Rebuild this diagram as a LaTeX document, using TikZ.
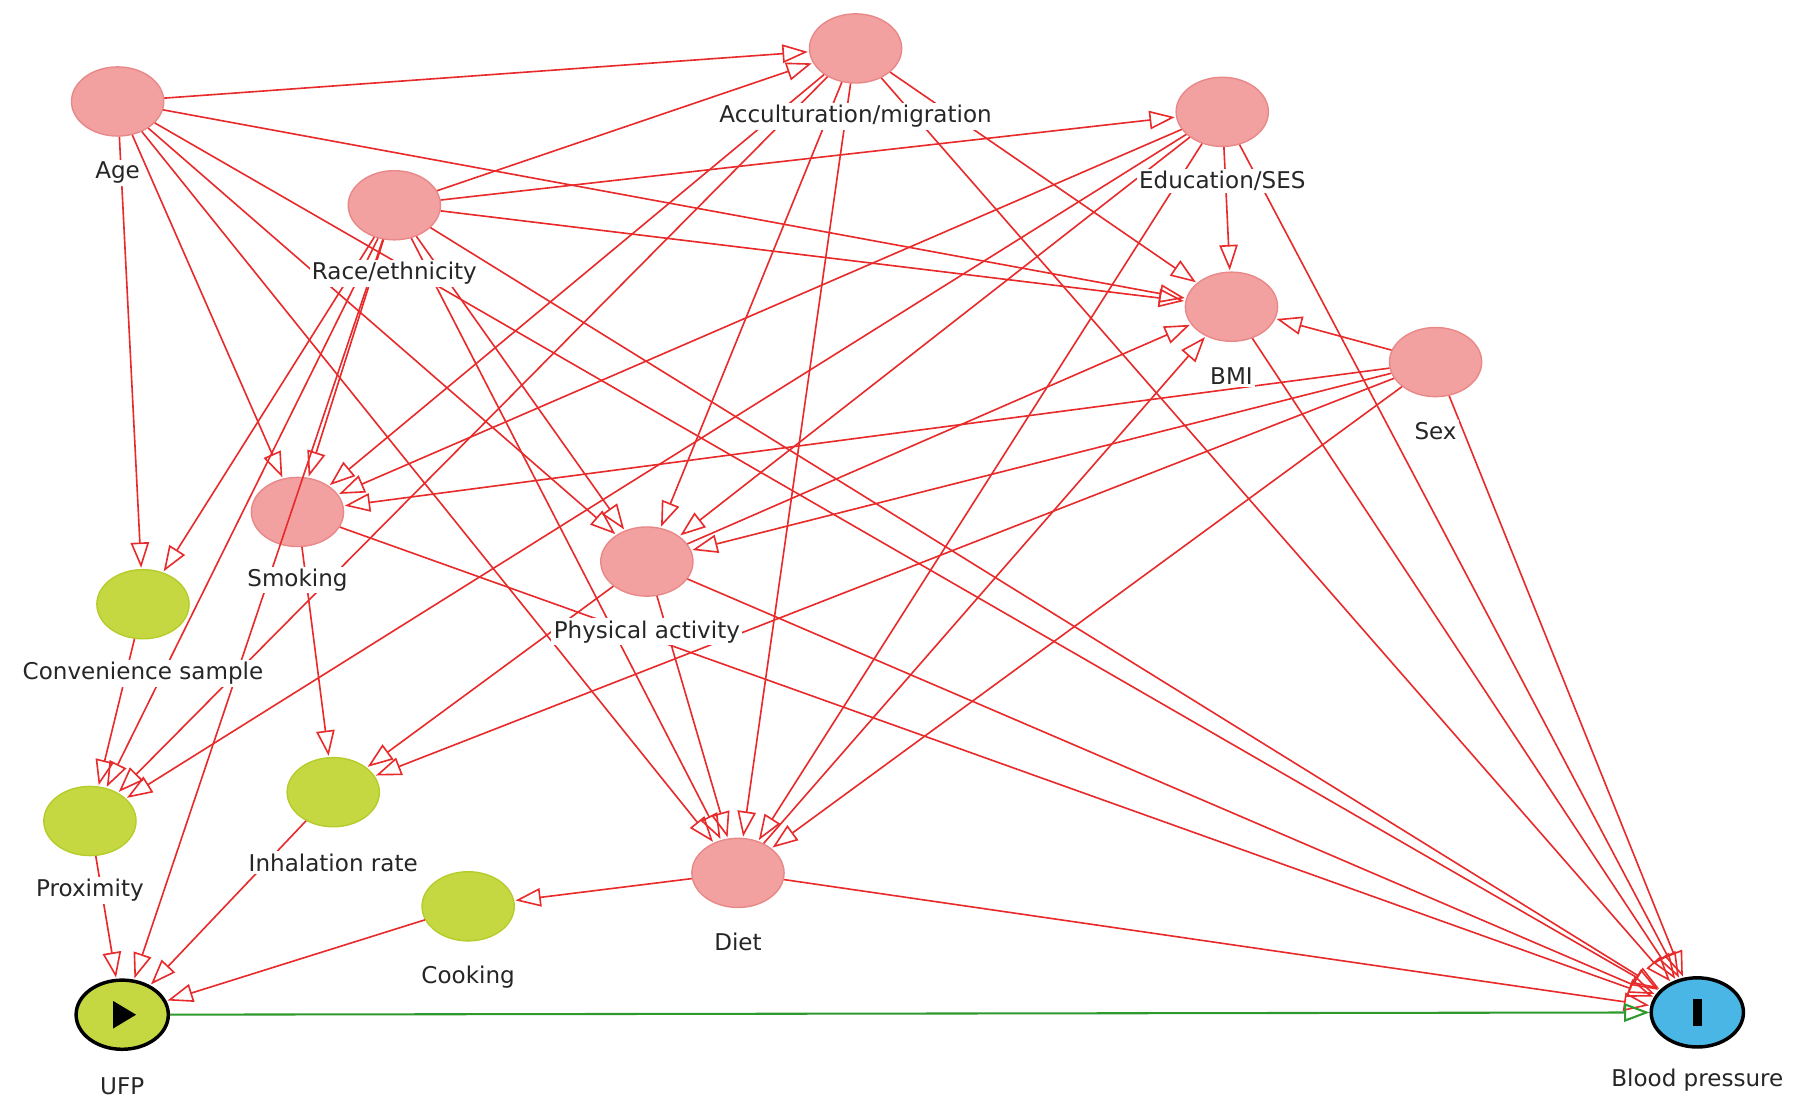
\documentclass[tikz,border=0pt]{standalone}
\usepackage{fontspec}
\setmainfont{DejaVu Sans}
\usetikzlibrary{arrows.meta,shapes.geometric}
\definecolor{ered}{HTML}{E82A2A}
\definecolor{pinkf}{HTML}{F2A0A0}
\definecolor{pinkd}{HTML}{E88888}
\definecolor{greenf}{HTML}{C5D841}
\definecolor{greend}{HTML}{B5CC2A}
\definecolor{bluef}{HTML}{4AB6E6}
\definecolor{egreen}{HTML}{2E9A2E}
\begin{document}
\begin{tikzpicture}[x=0.5pt,y=-0.5pt,
  v/.style={ellipse,minimum width=40pt,minimum height=30pt,inner sep=0pt},
  pk/.style={v,fill=pinkf,draw=pinkd,line width=0.6pt},
  gr/.style={v,fill=greenf,draw=greend,line width=0.6pt},
  lab/.style={font=\fontsize{10}{12}\selectfont,text=black!85,fill=white,inner sep=1pt},
  e/.style={draw=ered,line width=0.7pt,-{Triangle[open,length=11pt,width=8pt]},shorten >=0.5pt},
  ex/.style={draw=egreen,line width=0.9pt,-{Triangle[open,length=11pt,width=8pt]}}]
\useasboundingbox (0,0) rectangle (1568,960);
% nodes
\node[pk] (age) at (102,88) {};
\node[pk] (acc) at (742,42) {};
\node[pk] (edu) at (1060,97) {};
\node[pk] (race) at (342,178) {};
\node[pk] (bmi) at (1068,266) {};
\node[pk] (sex) at (1245,314) {};
\node[pk] (smk) at (258,444) {};
\node[pk] (pa) at (561,487) {};
\node[gr] (conv) at (124,524) {};
\node[gr] (prox) at (78,712) {};
\node[gr] (inh) at (289,687) {};
\node[pk] (diet) at (640,757) {};
\node[gr] (cook) at (406,786) {};
\node[v,fill=greenf,draw=black,line width=1.5pt] (ufp) at (106,880) {};
\node[v,fill=bluef,draw=black,line width=1.5pt] (bp) at (1472,878) {};
\fill[black] (98,868) -- (118,880) -- (98,892) -- cycle;
\fill[black] (1468,866) rectangle (1476,890);
% edges
\begin{scope}
\draw[e] (age) -- (acc);
\draw[e] (age) -- (bmi);
\draw[e] (age) -- (conv);
\draw[e] (age) -- (smk);
\draw[e] (age) -- (pa);
\draw[e] (age) -- (diet);
\draw[e] (age) -- (bp);
\draw[e] (race) -- (acc);
\draw[e] (race) -- (edu);
\draw[e] (race) -- (bmi);
\draw[e] (race) -- (conv);
\draw[e] (race) -- (smk);
\draw[e] (race) -- (pa);
\draw[e] (race) -- (diet);
\draw[e] (race) -- (prox);
\draw[e] (race) -- (ufp);
\draw[e] (race) -- (bp);
\draw[e] (acc) -- (bmi);
\draw[e] (acc) -- (smk);
\draw[e] (acc) -- (pa);
\draw[e] (acc) -- (diet);
\draw[e] (acc) -- (prox);
\draw[e] (acc) -- (bp);
\draw[e] (edu) -- (bmi);
\draw[e] (edu) -- (smk);
\draw[e] (edu) -- (pa);
\draw[e] (edu) -- (diet);
\draw[e] (edu) -- (prox);
\draw[e] (edu) -- (bp);
\draw[e] (sex) -- (bmi);
\draw[e] (sex) -- (smk);
\draw[e] (sex) -- (pa);
\draw[e] (sex) -- (inh);
\draw[e] (sex) -- (diet);
\draw[e] (sex) -- (bp);
\draw[e] (pa) -- (bmi);
\draw[e] (diet) -- (bmi);
\draw[e] (bmi) -- (bp);
\draw[e] (smk) -- (inh);
\draw[e] (smk) -- (bp);
\draw[e] (pa) -- (inh);
\draw[e] (pa) -- (diet);
\draw[e] (pa) -- (bp);
\draw[e] (conv) -- (prox);
\draw[e] (prox) -- (ufp);
\draw[e] (inh) -- (ufp);
\draw[e] (cook) -- (ufp);
\draw[e] (diet) -- (cook);
\draw[e] (diet) -- (bp);
\draw[ex] (ufp) -- (bp);
\end{scope}
% labels
\node[lab] at (102,150) {Age};
\node[lab] at (742,101) {Acculturation/migration};
\node[lab] at (1060,157) {Education/SES};
\node[lab] at (342,237) {Race/ethnicity};
\node[lab] at (1068,326) {BMI};
\node[lab] at (1245,374) {Sex};
\node[lab] at (258,503) {Smoking};
\node[lab] at (561,548) {Physical activity};
\node[lab] at (124,584) {Convenience sample};
\node[lab] at (78,772) {Proximity};
\node[lab] at (289,748) {Inhalation rate};
\node[lab] at (640,817) {Diet};
\node[lab] at (406,847) {Cooking};
\node[lab] at (106,942) {UFP};
\node[lab] at (1472,937) {Blood pressure};
\end{tikzpicture}
\end{document}
